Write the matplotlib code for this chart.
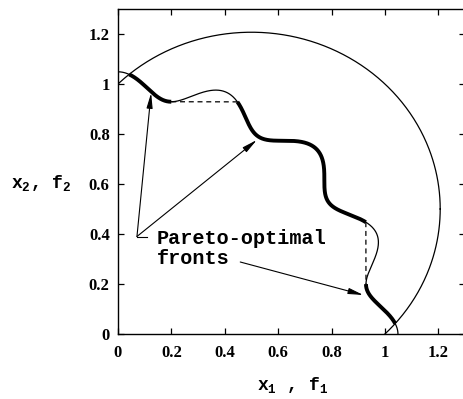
import matplotlib.pyplot as plt
import numpy as np

plt.rcParams['mathtext.fontset'] = 'custom'
plt.rcParams['mathtext.rm'] = 'Liberation Mono:bold'
plt.rcParams['mathtext.default'] = 'rm'

# Constraint shapes: wavy unit circle and the bounding circle
circle_center = (0.5, 0.5)
circle_radius_sq = 0.5
wave_amplitude = 0.1
wave_lobes = 16

axis_ticks = [0, 0.2, 0.4, 0.6, 0.8, 1, 1.2]
tick_labels = ['0', '0.2', '0.4', '0.6', '0.8', '1', '1.2']

# Wavy boundary x1^2 + x2^2 = 1 + a*cos(n*atan(x1/x2))
theta = np.linspace(0, np.pi / 2, 3000)
r = np.sqrt(1 + wave_amplitude * np.cos(wave_lobes * theta))
fx = r * np.sin(theta)
fy = r * np.cos(theta)

cx, cy = circle_center
rad = np.sqrt(circle_radius_sq)
phi = np.linspace(0, 2 * np.pi, 1000)
circ_x = cx + rad * np.cos(phi)
circ_y = cy + rad * np.sin(phi)

# non-dominated points of the feasible part of the boundary
feasible = np.where((fx - cx) ** 2 + (fy - cy) ** 2 <= circle_radius_sq)[0]
px, py = fx[feasible], fy[feasible]
le = (px[None, :] <= px[:, None]) & (py[None, :] <= py[:, None])
lt = (px[None, :] < px[:, None]) | (py[None, :] < py[:, None])
dominated = (le & lt).any(axis=1)
front_idx = feasible[~dominated]
pieces = np.split(front_idx, np.where(np.diff(front_idx) > 1)[0] + 1)

# join pieces separated only by tiny wiggles
runs = [[pieces[0][0], pieces[0][-1]]]
for p in pieces[1:]:
    i, j = runs[-1][1], p[0]
    if np.hypot(fx[i] - fx[j], fy[i] - fy[j]) < 0.08:
        runs[-1][1] = p[-1]
    else:
        runs.append([p[0], p[-1]])

fig = plt.figure(figsize=(4.63, 3.99), dpi=100)
ax = fig.add_axes([118 / 463, 65 / 399, 347 / 463, 325 / 399])

ax.plot(circ_x, circ_y, color='black', lw=0.9)
ax.plot(fx, fy, color='black', lw=0.9)
for a, b in runs:
    ax.plot(fx[a:b + 1], fy[a:b + 1], color='black', lw=2.8,
            solid_capstyle='butt')
for (a0, a1), (b0, b1) in zip(runs[:-1], runs[1:]):
    ax.plot([fx[a1], fx[b0]], [fy[a1], fy[b0]], color='black',
            lw=0.9, dashes=(4, 3))

# Labels and arrows
arrow = dict(arrowstyle='-|>,head_length=0.9,head_width=0.18', color='black',
             lw=0.8, shrinkA=0, shrinkB=0)
ax.annotate('', xy=(0.124, 0.964), xytext=(0.071, 0.39), arrowprops=arrow)
ax.annotate('', xy=(0.52, 0.776), xytext=(0.071, 0.39), arrowprops=arrow)
ax.annotate('', xy=(0.919, 0.156), xytext=(0.458, 0.288), arrowprops=arrow)
ax.plot([0.071, 0.109], [0.39, 0.39], color='black', lw=0.8)
ax.text(0.146, 0.342, 'Pareto-optimal\nfronts', family='Liberation Mono',
        weight='bold', size=14.5, va='center', linespacing=1.0)

ax.set_xlim(0, 1.3)
ax.set_ylim(0, 1.3)
ax.set_xticks(axis_ticks)
ax.set_yticks(axis_ticks)
ax.set_xticklabels(tick_labels, family='Liberation Serif', weight='bold', size=12)
ax.set_yticklabels(tick_labels, family='Liberation Serif', weight='bold', size=12)
ax.tick_params(direction='in', length=4, width=0.9, top=True, right=True)
ax.tick_params(axis='x', pad=8)
ax.tick_params(axis='y', pad=6)
for s in ax.spines.values():
    s.set_linewidth(1.0)

ax.set_xlabel('$x_1$ , $f_1$', family='Liberation Mono', weight='bold', size=13)
ax.set_ylabel('$x_2$, $f_2$', family='Liberation Mono', weight='bold', size=13,
              rotation=0, ha='center', va='center')
ax.xaxis.set_label_coords(0.503, -0.125)
ax.yaxis.set_label_coords(-0.22, 0.465)

fig.savefig('out.png', dpi=100)
